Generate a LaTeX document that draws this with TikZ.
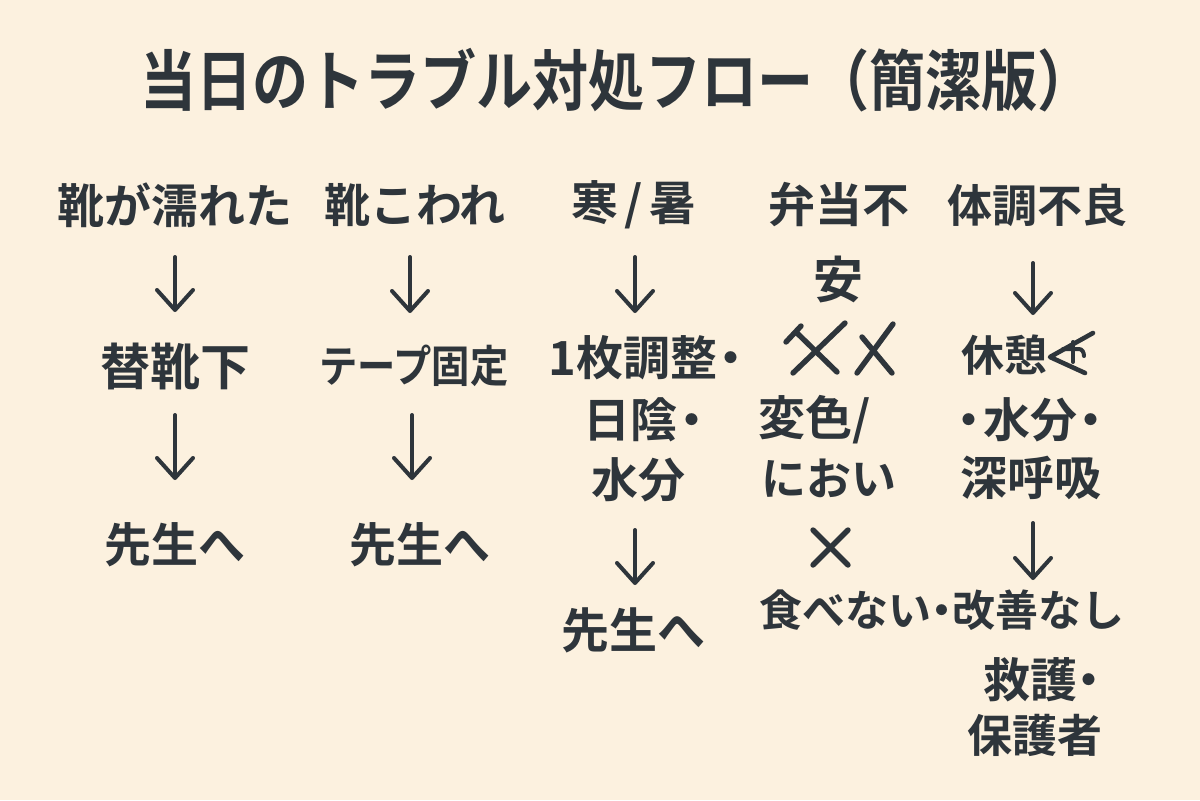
\documentclass[tikz,border=0pt]{standalone}
\usepackage{fontspec}
\setmainfont{Noto Sans CJK JP}[BoldFont={Noto Sans CJK JP Bold}]
\usetikzlibrary{arrows.meta}
\definecolor{bg}{HTML}{FCF1DF}
\definecolor{ink}{HTML}{2E353B}
\tikzset{
  txt/.style={font=\bfseries\fontsize{#1}{#1}\selectfont, text=ink, inner sep=0pt},
  arr/.style={draw=ink, line width=2pt, line cap=round, line join=round,
    -{Straight Barb[length=10pt, width=18pt, round]}},
  crossline/.style={draw=ink, line width=2.7pt, line cap=round},
}
\begin{document}
\begin{tikzpicture}[x=0.5pt,y=-0.5pt]
\useasboundingbox (0,0) rectangle (1200,800);
\fill[bg] (0,0) rectangle (1200,800);

% title
\node[txt=33, xscale=0.85] (title) at (617,80) {当日のトラブル対処フロー（簡潔版）};

% column 1
\node[txt=23.5] (n11) at (175,205) {靴が濡れた};
\node[txt=25] (n12) at (175,366) {替靴下};
\node[txt=23.5] (n13) at (175,545) {先生へ};
\coordinate (a11s) at (175,257); \coordinate (a11e) at (175,312);
\coordinate (a12s) at (175,415); \coordinate (a12e) at (175,480);
\draw[arr] (a11s) -- (a11e);
\draw[arr] (a12s) -- (a12e);

% column 2
\node[txt=23] (n21) at (415,205) {靴こわれ};
\node[txt=22, xscale=0.87] (n22) at (414,366) {テープ固定};
\node[txt=23.5] (n23) at (420,545) {先生へ};
\coordinate (a21s) at (410,257); \coordinate (a21e) at (410,313);
\coordinate (a22s) at (412,415); \coordinate (a22e) at (412,480);
\draw[arr] (a21s) -- (a21e);
\draw[arr] (a22s) -- (a22e);

% column 3
\node[txt=23.5] (n31) at (634,205) {寒\kern3pt/\kern3pt暑};
\node[txt=23.5, anchor=west] (n32) at (548,358) {1枚調整\kern-.2em・};
\node[txt=23.5, anchor=west] (n33) at (583,420) {日陰\kern-.2em・};
\node[txt=23.5] (n34) at (638,480) {水分};
\node[txt=24] (n35) at (633,630) {先生へ};
\coordinate (a31s) at (635,257); \coordinate (a31e) at (635,313);
\coordinate (a32s) at (635,530); \coordinate (a32e) at (635,585);
\draw[arr] (a31s) -- (a31e);
\draw[arr] (a32s) -- (a32e);

% column 4
\node[txt=23.5] (n41) at (839,205) {弁当不};
\node[txt=25] (n42) at (838,279) {安};
\draw[crossline] (845,323) -- (793,373);
\draw[crossline] (797,333) -- (837,372);
\draw[crossline] (786,342) -- (801,326);
\draw[crossline] (893,324) -- (857,373);
\draw[crossline] (862,337) -- (892,373);
\node[txt=23.5, anchor=west] (n43) at (758,420) {変色/};
\node[txt=22.5] (n44) at (829,478) {におい};
\draw[crossline] (813,530) -- (848,565);
\draw[crossline] (848,530) -- (813,565);
\node[txt=21.5, anchor=west] (n45) at (759,610) {食べない\kern-.25em・\kern-.25em改善なし};

% column 5
\node[txt=22.5] (n51) at (1037,205) {体調不良};
\node[txt=21.5, anchor=west] (n52) at (961,355) {休憩};
\draw[draw=ink, line width=2.3pt, line cap=round, line join=round]
  (1093,333) -- (1050,357) -- (1085,373);
\draw[draw=ink, line width=2pt, line cap=round]
  (1063,349) -- (1079,349) to[out=0,in=90] (1084,356);
\draw[draw=ink, line width=2pt, line cap=round] (1073,342) -- (1073,362);
\node[txt=23.5] (n53) at (1030,420) {・\kern-.2em水分\kern-.2em・};
\node[txt=23.5] (n54) at (1031,478) {深呼吸};
\node[txt=23.5, anchor=west] (n55) at (983,680) {救護\kern-.25em・};
\node[txt=22.5] (n56) at (1035,735) {保護者};
\coordinate (a51s) at (1033,263); \coordinate (a51e) at (1033,315);
\coordinate (a52s) at (1033,523); \coordinate (a52e) at (1033,580);
\draw[arr] (a51s) -- (a51e);
\draw[arr] (a52s) -- (a52e);
\end{tikzpicture}
\end{document}
